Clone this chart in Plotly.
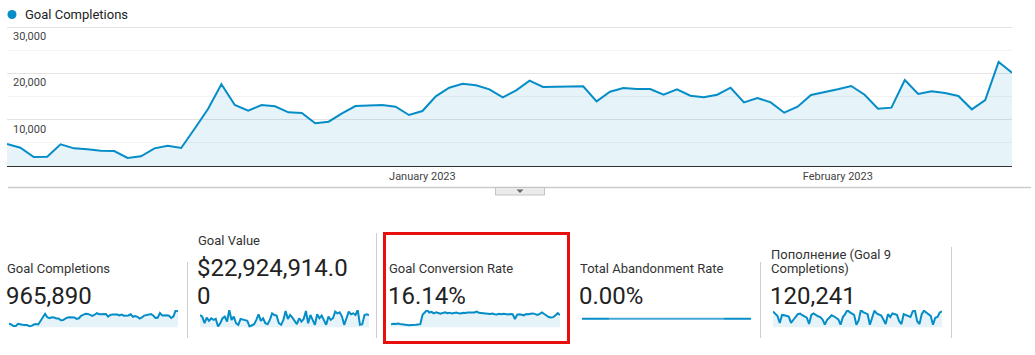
import plotly.graph_objects as go
import pandas as pd

W, H = 1035, 355

# ---------------- data ----------------
dates = pd.date_range("2022-12-01", "2023-02-14", freq="D")

goal_completions = [
    4750, 3950, 1940, 2000, 4680, 3810, 3600, 3300, 3240, 1730,
    2090, 3810, 4390, 3880, 8050, 12300, 17630, 13170, 11940, 13170,
    12880, 11580, 11440, 9210, 9570, 11370, 12950, 13020, 13170, 12800,
    11010, 11870, 15040, 16900, 17760, 17410, 16550, 14820, 16330, 18410,
    17050, 17120, 17190, 17190, 13960, 16040, 16830, 16620, 16620, 15390,
    16550, 15180, 14820, 15390, 16900, 13740, 14680, 13740, 11510, 12800,
    15320, 15900, 16550, 17270, 15390, 12370, 12590, 18560, 15540, 16110,
    15760, 15110, 12230, 14240, 22450, 20140,
]

goal_value = [
    401000, 349000, 137000, 317000, 211000, 296000, 243000, 275000, 32000, 137000,
    296000, 349000, 190000, 560000, 243000, 349000, 137000, 85000, 275000, 254000,
    243000, 211000, 32000, 63000, 106000, 243000, 423000, 211000, 296000, 137000,
    106000, 243000, 454000, 401000, 380000, 137000, 85000, 243000, 528000, 275000,
    401000, 317000, 211000, 106000, 296000, 190000, 275000, 528000, 137000, 401000,
    243000, 85000, 423000, 296000, 380000, 243000, 85000, 349000, 243000, 296000,
    507000, 454000, 486000, 349000, 85000, 296000, 507000, 423000, 454000, 401000,
    560000, 85000, 106000, 401000, 423000, 401000,
]

conversion_rate = [
    3.9, 4.6, 4.3, 4.7, 4.2, 3.6, 3.0, 2.8, 2.6, 2.9,
    2.6, 3.2, 3.6, 4.0, 15.2, 18.6, 21.0, 18.0, 18.8, 17.0,
    18.2, 17.4, 16.6, 17.5, 18.3, 17.2, 17.8, 16.9, 17.6, 17.9,
    17.0, 16.8, 17.7, 17.3, 18.0, 17.5, 17.9, 18.1, 19.2, 17.8,
    17.3, 16.6, 17.0, 16.5, 16.2, 16.8, 16.0, 15.6, 16.4, 15.8,
    16.5, 16.1, 15.5, 16.3, 15.9, 10.2, 15.4, 16.0, 15.2, 14.6,
    16.2, 15.8, 16.6, 16.9, 16.0, 15.1, 16.4, 18.0, 16.2, 13.8,
    12.6, 12.0, 12.4, 14.8, 17.2, 15.0,
]

abandonment_rate = [
    0.0, 0.0, 0.0, 0.0, 0.0, 0.0, 0.0, 0.0, 0.0, 0.0,
    0.0, 0.0, 0.0, 0.0, 0.0, 0.0, 0.0, 0.0, 0.0, 0.0,
    0.0, 0.0, 0.0, 0.0, 0.0, 0.0, 0.0, 0.0, 0.0, 0.0,
    0.0, 0.0, 0.0, 0.0, 0.0, 0.0, 0.0, 0.0, 0.0, 0.0,
    0.0, 0.0, 0.0, 0.0, 0.0, 0.0, 0.0, 0.0, 0.0, 0.0,
    0.0, 0.0, 0.0, 0.0, 0.0, 0.0, 0.0, 0.0, 0.0, 0.0,
    0.0, 0.0, 0.0, 0.0, 0.0, 0.0, 0.0, 0.0, 0.0, 0.0,
    0.0, 0.0, 0.0, 0.0, 0.0, 0.0,
]

popolnenie = [
    2083, 1811, 1494, 589, 1630, 1585, 1494, 1404, 589, 1042,
    1358, 1721, 1811, 1585, 1449, 1268, 453, 1630, 1811, 1585,
    1449, 1358, 1042, 362, 996, 1268, 1585, 1449, 1268, 1042,
    362, 1358, 1721, 2264, 1992, 1811, 1630, 362, 906, 2264,
    1992, 1857, 1721, 362, 1177, 2174, 1811, 1721, 1540, 1042,
    453, 1721, 1358, 1811, 1721, 1630, 815, 453, 1721, 1630,
    1540, 1358, 2083, 2174, 815, 453, 1721, 2174, 1947, 1721,
    1494, 362, 1268, 1358, 1947, 2083,
]

month_ticks = ["2023-01-01", "2023-02-01"]
month_labels = ["January 2023", "February 2023"]
y_ticks = [10000, 20000, 30000]
y_tick_labels = ["10,000", "20,000", "30,000"]
y_minor = [5000, 15000, 25000]

card_titles = ["Goal Completions", "Goal Value", "Goal Conversion Rate",
               "Total Abandonment Rate", "Пополнение (Goal 9<br>Completions)"]
card_values = ["965,890", "$22,924,914.0<br>0", "16.14%", "0.00%", "120,241"]

# ---------------- styling helpers ----------------
BLUE = "#058DC7"
BLUE_LIGHT = "#45A7D6"
FILL = "rgba(5,141,199,0.10)"
FONT = "Roboto"


def px(x):
    return x / W


def py(y):
    return 1 - y / H


fig = go.Figure()

# main chart
fig.add_trace(go.Scatter(
    x=dates, y=goal_completions, mode="lines",
    line=dict(color=BLUE, width=2), fill="tozeroy", fillcolor=FILL,
    xaxis="x", yaxis="y", hoverinfo="skip", showlegend=False))

# sparklines
spark_series = [goal_completions, goal_value, conversion_rate, None, popolnenie]
spark_x0 = [9, 200, 391, 582, 773]
SPARK_W = 169
for i, series in enumerate(spark_series):
    ax = i + 2
    if series is not None:
        fig.add_trace(go.Scatter(
            x=dates, y=series, mode="lines",
            line=dict(color=BLUE, width=2), fill="tozeroy", fillcolor=FILL,
            xaxis=f"x{ax}", yaxis=f"y{ax}", hoverinfo="skip", showlegend=False))
    else:
        n = len(abandonment_rate)
        segs = [(0, 13, BLUE), (12, n - 12, BLUE_LIGHT), (n - 13, n, BLUE)]
        for a, b, c in segs:
            fig.add_trace(go.Scatter(
                x=dates[a:b], y=abandonment_rate[a:b], mode="lines",
                line=dict(color=c, width=2.2),
                xaxis=f"x{ax}", yaxis=f"y{ax}", hoverinfo="skip", showlegend=False))

# main plot area: 0 at y=166px, 30,000 at y=27px; domain extended 1px upward
# so the top gridline is not clipped at the edge
Y_TOP_PX, Y_BOT_PX, Y_MAX = 27, 166, 30000
y_range_max = Y_MAX * (Y_BOT_PX - (Y_TOP_PX - 2)) / (Y_BOT_PX - Y_TOP_PX)

layout_axes = {}
layout_axes["xaxis"] = dict(
    domain=[px(7), px(1012)], range=[dates[0], dates[-1]], anchor="y",
    tickvals=month_ticks, ticktext=month_labels, ticks="", showgrid=False,
    showline=True, linecolor="#333333", linewidth=1, zeroline=False,
    tickfont=dict(family=FONT, size=11, color="#444444"), fixedrange=True)
layout_axes["yaxis"] = dict(
    domain=[py(Y_BOT_PX), py(Y_TOP_PX - 2)], range=[0, y_range_max], anchor="x",
    tickvals=y_ticks, ticktext=y_tick_labels, ticks="",
    ticklabelposition="inside", ticklabelshift=9, ticklabelstandoff=3,
    showgrid=True, gridcolor="#e4e4e4", gridwidth=1,
    minor=dict(tickvals=y_minor, showgrid=True, gridcolor="#f3f3f3", gridwidth=1),
    zeroline=False, showline=False,
    tickfont=dict(family=FONT, size=11, color="#444444"), fixedrange=True)

spark_ranges = [
    [0, max(goal_completions)],
    [0, max(goal_value)],
    [0, max(conversion_rate)],
    [-1, 1],
    [0, max(popolnenie)],
]
for i in range(5):
    ax = i + 2
    layout_axes[f"xaxis{ax}"] = dict(
        domain=[px(spark_x0[i]), px(spark_x0[i] + SPARK_W)],
        range=[dates[0], dates[-1]], anchor=f"y{ax}", visible=False, fixedrange=True)
    layout_axes[f"yaxis{ax}"] = dict(
        domain=[py(327.5), py(310)], range=spark_ranges[i], anchor=f"x{ax}",
        visible=False, fixedrange=True)

# ---------------- shapes ----------------
shapes = []
# legend dot
shapes.append(dict(type="circle", xref="paper", yref="paper",
                   x0=px(7.5), x1=px(16.5), y0=py(10), y1=py(19),
                   fillcolor=BLUE, line=dict(width=0)))
# divider under chart
shapes.append(dict(type="line", xref="paper", yref="paper",
                   x0=px(8), x1=px(1031), y0=py(187.5), y1=py(187.5),
                   line=dict(color="#cccccc", width=1.3)))
# toggle button
shapes.append(dict(type="rect", xref="paper", yref="paper",
                   x0=px(495.5), x1=px(544.5), y0=py(195), y1=py(187.5),
                   fillcolor="#ebebeb", line=dict(color="#c4c4c4", width=1)))
shapes.append(dict(type="path", xref="paper", yref="paper",
                   path=f"M {px(516.5)},{py(189.5)} L {px(523.5)},{py(189.5)} L {px(520)},{py(193)} Z",
                   fillcolor="#666666", line=dict(width=0)))
# card separators
for x, y0 in [(187.5, 262), (376.5, 233), (569.5, 262), (760.5, 262), (951.5, 247)]:
    shapes.append(dict(type="line", xref="paper", yref="paper",
                       x0=px(x), x1=px(x), y0=py(y0), y1=py(338),
                       line=dict(color="#cfcfcf", width=1)))
# red highlight box
shapes.append(dict(type="rect", xref="paper", yref="paper",
                   x0=px(384.5), x1=px(568.5), y0=py(342.5), y1=py(233.5),
                   fillcolor="rgba(0,0,0,0)", line=dict(color="#e8100f", width=3)))

# ---------------- annotations ----------------
ann = []


def text(x, y, s, size, color):
    ann.append(dict(xref="paper", yref="paper", x=px(x), y=py(y), text=s,
                    showarrow=False, xanchor="left", yanchor="middle",
                    align="left", borderpad=0,
                    font=dict(family=FONT, size=size, color=color)))


text(24, 15, "Goal Completions", 13, "#222222")

title_pos = [(6, 268), (197, 240.5), (388, 268), (579, 268), (770, 254)]
value_pos = [(5, 296), (196, 268), (387, 296), (578, 296), (769, 296)]
for i in range(5):
    t_lines = card_titles[i].split("<br>")
    tx, ty = title_pos[i]
    for k, line in enumerate(t_lines):
        text(tx, ty + 14 * k, line, 13, "#333333")
    v_lines = card_values[i].split("<br>")
    vx, vy = value_pos[i]
    for k, line in enumerate(v_lines):
        text(vx, vy + 28 * k, line, 24, "#222222")

fig.update_layout(
    width=W, height=H, margin=dict(l=0, r=0, t=0, b=0, pad=0),
    paper_bgcolor="white", plot_bgcolor="white",
    font=dict(family=FONT, color="#333333"),
    showlegend=False, shapes=shapes, annotations=ann,
    **layout_axes)

fig.write_html("out.html")
